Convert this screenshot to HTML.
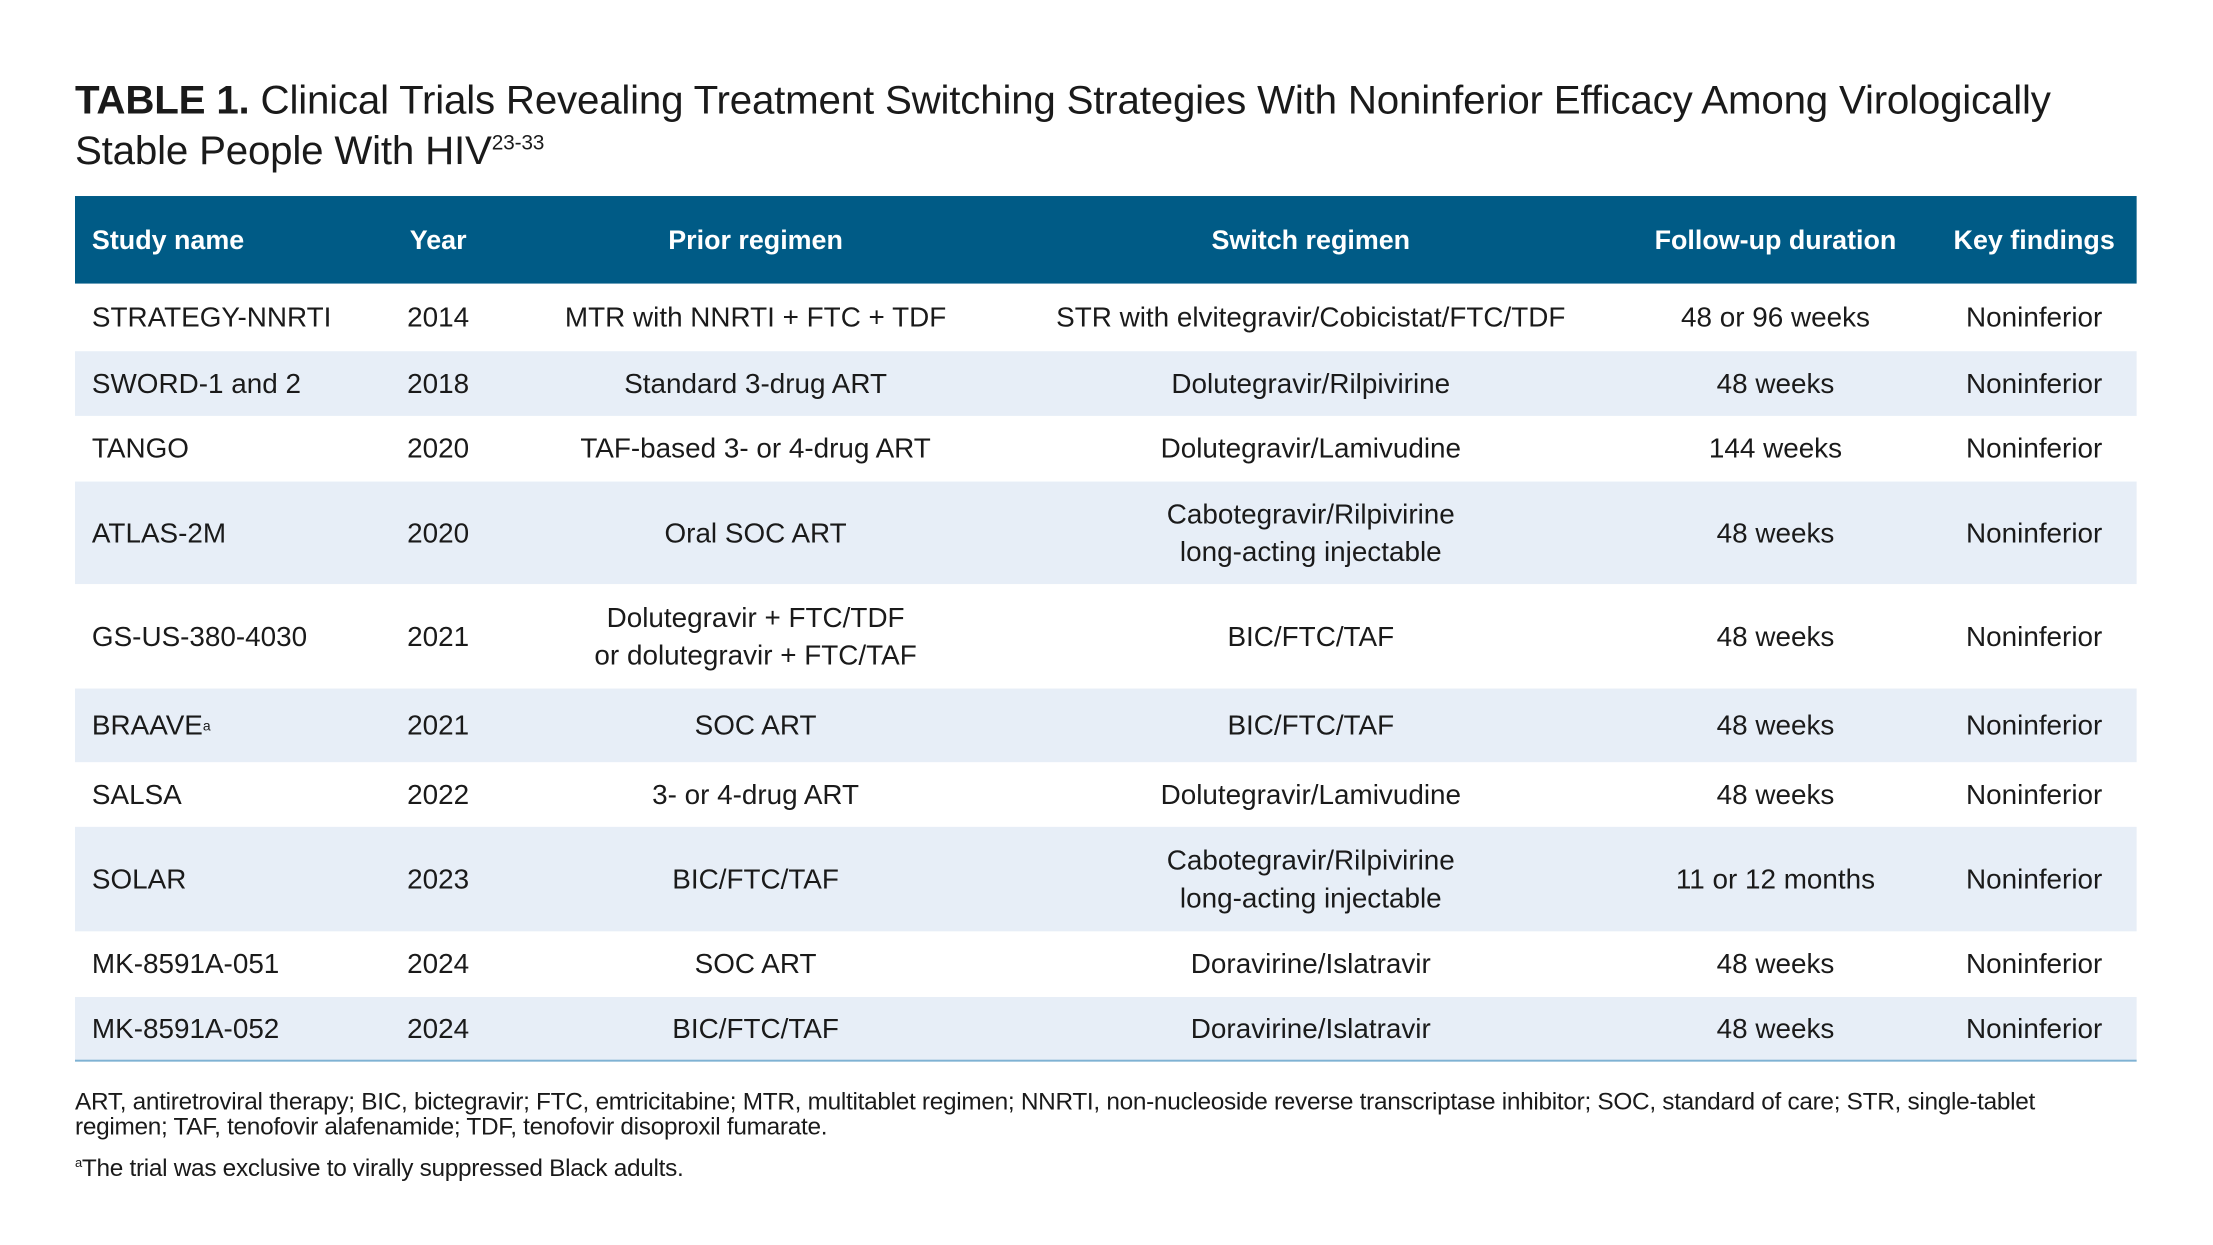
<!DOCTYPE html>
<html><head><meta charset="utf-8"><style>
body{margin:0;width:2213px;height:1245px;background:#fff;font-family:"Liberation Sans",sans-serif;color:#1a1a1a;position:relative;overflow:hidden}
#wrap{position:absolute;left:0;top:0;width:2213px;height:1245px;transform:scale(0.995);transform-origin:75px 0}
.title{position:absolute;left:75px;top:78px;font-size:40.5px;line-height:44px;width:2150px;letter-spacing:-0.2px}
.title b{font-weight:bold}
.title sup{font-size:21px;vertical-align:15px}
.hdr{position:absolute;left:75px;top:197px;width:2072px;height:88px;background:#005b86}
.row{position:absolute;left:75px;width:2072px}
.shade{background:#e7eef7}
.c{position:absolute;top:0;height:100%;display:flex;align-items:center;justify-content:center;text-align:center;font-size:28px;line-height:38px;transform:translateX(-50%);white-space:nowrap}
.l{position:absolute;top:0;height:100%;display:flex;align-items:center;left:17px;font-size:28px;white-space:nowrap}
.hdr .c,.hdr .l{color:#fff;font-weight:bold;font-size:27px}
.line{position:absolute;left:75px;top:1065px;width:2072px;height:2px;background:#7fb2d3}
.foot{position:absolute;left:75px;font-size:24.5px;line-height:25px;color:#1a1a1a;width:2050px;letter-spacing:-0.3px}
</style></head><body>
<div id="wrap">
<div class="title"><b>TABLE 1.</b> Clinical Trials Revealing Treatment Switching Strategies With Noninferior Efficacy Among Virologically<br>Stable People With HIV<sup>23-33</sup></div>
<div class="hdr">
<div class="l">Study name</div>
<div class="c" style="left:365px">Year</div>
<div class="c" style="left:684px">Prior regimen</div>
<div class="c" style="left:1242px">Switch regimen</div>
<div class="c" style="left:1709px">Follow-up duration</div>
<div class="c" style="left:1969px">Key findings</div>
</div>
<div id="rows"></div>
<div class="line"></div>
<div class="foot" style="top:1095px">ART, antiretroviral therapy; BIC, bictegravir; FTC, emtricitabine; MTR, multitablet regimen; NNRTI, non-nucleoside reverse transcriptase inhibitor; SOC, standard of care; STR, single-tablet regimen; TAF, tenofovir alafenamide; TDF, tenofovir disoproxil fumarate.</div>
<div class="foot" style="top:1156px"><sup style="font-size:13px">a</sup>The trial was exclusive to virally suppressed Black adults.</div>
</div>
<script>
const tops=[285,353,418,484,587,692,766,831,936,1002,1065];
const names=["STRATEGY-NNRTI","SWORD-1 and 2","TANGO","ATLAS-2M","GS-US-380-4030","BRAAVE<sup style='font-size:14px'>a</sup>","SALSA","SOLAR","MK-8591A-051","MK-8591A-052"];
const years=["2014","2018","2020","2020","2021","2021","2022","2023","2024","2024"];
const prior=["MTR with NNRTI + FTC + TDF","Standard 3-drug ART","TAF-based 3- or 4-drug ART","Oral SOC ART","Dolutegravir + FTC/TDF<br>or dolutegravir + FTC/TAF","SOC ART","3- or 4-drug ART","BIC/FTC/TAF","SOC ART","BIC/FTC/TAF"];
const sw=["STR with elvitegravir/Cobicistat/FTC/TDF","Dolutegravir/Rilpivirine","Dolutegravir/Lamivudine","Cabotegravir/Rilpivirine<br>long-acting injectable","BIC/FTC/TAF","BIC/FTC/TAF","Dolutegravir/Lamivudine","Cabotegravir/Rilpivirine<br>long-acting injectable","Doravirine/Islatravir","Doravirine/Islatravir"];
const fu=["48 or 96 weeks","48 weeks","144 weeks","48 weeks","48 weeks","48 weeks","48 weeks","11 or 12 months","48 weeks","48 weeks"];
const host=document.getElementById('rows');
for(let i=0;i<names.length;i++){
 const r=document.createElement('div');
 
 
 r.className='row'+(i%2?' shade':'');
 r.style.top=tops[i]+'px';r.style.height=(tops[i+1]-tops[i])+'px';
 r.innerHTML='<div class="l">'+names[i]+'</div>'+
 '<div class="c" style="left:365px">'+years[i]+'</div>'+
 '<div class="c" style="left:684px">'+prior[i]+'</div>'+
 '<div class="c" style="left:1242px">'+sw[i]+'</div>'+
 '<div class="c" style="left:1709px">'+fu[i]+'</div>'+
 '<div class="c" style="left:1969px">Noninferior</div>';
 host.appendChild(r);
}
</script>
</body></html>
